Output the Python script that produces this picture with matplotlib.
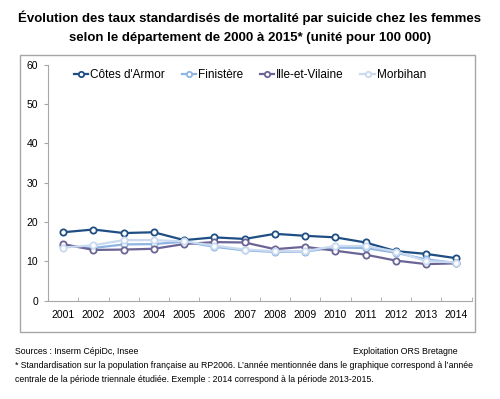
import matplotlib
matplotlib.use('Agg')
import matplotlib.pyplot as plt
from matplotlib.patches import Rectangle

# taux standardisés pour 100 000 femmes
years = ['2001', '2002', '2003', '2004', '2005', '2006', '2007',
         '2008', '2009', '2010', '2011', '2012', '2013', '2014']
cotes_armor = [17.4, 18.1, 17.2, 17.4, 15.4, 16.1, 15.7, 17.0, 16.5, 16.1, 14.8, 12.6, 11.9, 10.8]
finistere = [13.9, 13.4, 14.3, 14.4, 15.0, 13.7, 12.8, 12.4, 12.5, 13.5, 13.4, 12.2, 10.5, 9.6]
ille_vilaine = [14.4, 12.9, 13.0, 13.2, 14.4, 14.9, 14.8, 13.1, 13.7, 12.7, 11.7, 10.2, 9.3, 9.5]
morbihan = [13.5, 14.1, 15.4, 15.4, 15.1, 14.0, 13.0, 12.6, 12.6, 13.9, 13.9, 12.5, 10.1, 9.7]

series = [
    ("Côtes d'Armor", cotes_armor, '#1F4E84'),
    ('Finistère', finistere, '#8EB4E3'),
    ('Ille-et-Vilaine', ille_vilaine, '#6B6595'),
    ('Morbihan', morbihan, '#C9DAF0'),
]

W, H = 500, 399
fig = plt.figure(figsize=(W / 100, H / 100), dpi=100)
plt.rcParams['font.family'] = ['Liberation Sans', 'DejaVu Sans']

# cadre du graphique
fig.patches.append(Rectangle((19.5 / W, 1 - 331.5 / H), (474.5 - 19.5) / W, (331.5 - 54.5) / H,
                             transform=fig.transFigure, fill=False, edgecolor='#a6a6a6', lw=1))

ax = fig.add_axes([48 / W, 1 - 300.7 / H, (471.5 - 48) / W, (300.7 - 64.7) / H])
x = list(range(len(years)))
for name, vals, col in series:
    ax.plot(x, vals, color=col, lw=1.6, marker='o', ms=4.5, mfc='white', mec=col, mew=1.3,
            label=name)

ax.set_xlim(-0.5, len(years) - 0.5)
ax.set_ylim(0, 60)
ax.set_yticks(range(0, 61, 10))
ax.set_xticks(x)
ax.set_xticklabels(years)
ax.set_xticks([i + 0.5 for i in range(-1, len(years))], minor=True)
ax.tick_params(axis='x', which='major', length=0, labelsize=7.5, pad=7)
ax.tick_params(axis='x', which='minor', length=3, color='#a6a6a6', direction='in')
ax.tick_params(axis='y', length=3, color='#a6a6a6', labelsize=7.5, pad=4)
for s in ['top', 'right']:
    ax.spines[s].set_visible(False)
for s in ['left', 'bottom']:
    ax.spines[s].set_color('#a6a6a6')
ax.patch.set_alpha(0)

ax.legend(loc='upper center', bbox_to_anchor=(0.477, 1.025), ncol=4, frameon=False,
          fontsize=8.5, handlelength=1.2, handletextpad=0.2, columnspacing=1.4,
          markerscale=0.85)

fig.text(0.5, 1 - 18 / H, "Évolution des taux standardisés de mortalité par suicide chez les femmes",
         ha='center', va='center', fontsize=9.5, fontweight='bold')
fig.text(0.5, 1 - 38 / H, "selon le département de 2000 à 2015* (unité pour 100 000)",
         ha='center', va='center', fontsize=9.5, fontweight='bold')

fig.text(15 / W, 1 - 352 / H, "Sources : Inserm CépiDc, Insee", fontsize=6.3, va='center')
fig.text(458 / W, 1 - 352 / H, "Exploitation ORS Bretagne", fontsize=6.3, va='center', ha='right')
fig.text(15 / W, 1 - 366 / H,
         "* Standardisation sur la population française au RP2006. L\u2019année mentionnée dans le graphique correspond à l\u2019année",
         fontsize=6.3, va='center')
fig.text(15 / W, 1 - 380 / H,
         "centrale de la période triennale étudiée. Exemple : 2014 correspond à la période 2013-2015.",
         fontsize=6.3, va='center')

fig.savefig('out.png', dpi=100)
